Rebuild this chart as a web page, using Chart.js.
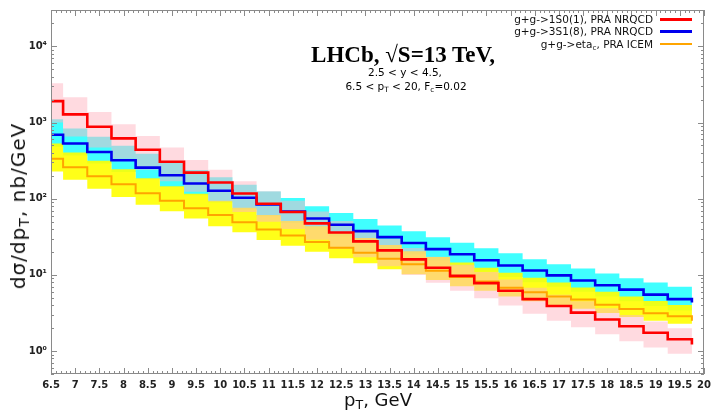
<!DOCTYPE html>
<html>
<head>
<meta charset="utf-8">
<script src="https://cdn.jsdelivr.net/npm/chart.js@4.4.1/dist/chart.umd.min.js"></script>
<style>
  body { margin: 0; background: #fff; }
  #wrap { position: relative; width: 716px; height: 412px; }
  #plot { position: absolute; left: 0; top: 0; }
  .txt { position: absolute; white-space: nowrap; color: #000; font-family: "DejaVu Sans", sans-serif; }
  .txt sub { font-size: 70%; vertical-align: -0.25em; line-height: 0; }
  .title { font-family: "Liberation Serif", serif; font-weight: bold; font-size: 23px; line-height: 23px; transform: translateX(-50%); }
  .sub { font-size: 10.5px; line-height: 12px; transform: translateX(-50%); }
  .leg { font-size: 10.5px; line-height: 12px; color: #111; }
  .key { position: absolute; left: 660px; width: 32px; }
  .axis-t { font-size: 18px; line-height: 20px; color: #111; }
</style>
</head>
<body>
<div id="wrap">
  <canvas id="plot" width="716" height="412"></canvas>

  <div class="txt title" style="left:403px; top:43px;">LHCb, √S=13 TeV,</div>
  <div class="txt sub" style="left:405px; top:66px;">2.5 &lt; y &lt; 4.5,</div>
  <div class="txt sub" style="left:406px; top:80px;">6.5 &lt; p<sub>T</sub> &lt; 20, F<sub>c</sub>=0.02</div>

  <div class="txt leg" style="right:63px; top:13px;">g+g-&gt;1S0(1), PRA NRQCD</div>
  <div class="txt leg" style="right:63px; top:25px;">g+g-&gt;3S1(8), PRA NRQCD</div>
  <div class="txt leg" style="right:63px; top:37.5px;">g+g-&gt;eta<sub>c</sub>, PRA ICEM</div>
  <div class="key" style="top:17.5px; height:3px; background:#ff0000;"></div>
  <div class="key" style="top:29.5px; height:3px; background:#0000ee;"></div>
  <div class="key" style="top:42.5px; height:2px; background:#ffa500;"></div>

  <div class="txt axis-t" style="left:18px; top:206px; font-size:20px; letter-spacing:1px; transform:translate(-50%,-50%) rotate(-90deg);">dσ/dp<sub>T</sub>, nb/GeV</div>
  <div class="txt axis-t" style="left:378px; top:390px; transform:translateX(-50%);">p<sub>T</sub>, GeV</div>
</div>
<script>
// pT bin centres (GeV), bins are 0.5 GeV wide
const ptBins = [6.5, 7, 7.5, 8, 8.5, 9, 9.5, 10, 10.5, 11, 11.5, 12, 12.5, 13, 13.5,
  14, 14.5, 15, 15.5, 16, 16.5, 17, 17.5, 18, 18.5, 19, 19.5];

// g+g -> 1S0(1), PRA NRQCD : central value and scale band (nb/GeV)
const sig1S0 = [1910, 1280, 880, 620, 440, 306, 220, 163, 117, 86, 67, 47.5, 36, 27.5, 21,
  16, 12.4, 9.7, 7.8, 6.2, 4.8, 3.9, 3.2, 2.6, 2.12, 1.74, 1.43];
const sig1S0Max = [3280, 2140, 1370, 950, 665, 470, 322, 240, 170, 125, 94, 68, 51, 39, 29.5,
  22.5, 17.3, 13.6, 10.9, 8.7, 6.8, 5.5, 4.5, 3.65, 2.97, 2.44, 2.0];
const sig1S0Min = [1000, 655, 470, 335, 240, 170, 123, 92, 67, 50, 40, 29, 22, 17, 13,
  10, 7.9, 6.2, 4.95, 3.95, 3.08, 2.5, 2.05, 1.66, 1.35, 1.11, 0.92];

// g+g -> 3S1(8), PRA NRQCD
const sig3S1 = [690, 530, 410, 320, 256, 203, 158, 127, 103, 84, 68, 55, 45.5, 37.5, 31.3,
  26.2, 21.8, 18.7, 15.6, 13.3, 11.4, 9.85, 8.45, 7.3, 6.4, 5.5, 4.8];
const sig3S1Max = [1104, 832, 649, 495, 390, 300, 239, 191, 152, 124, 102, 79.4, 64.9, 54.2, 44.5,
  37.5, 31.3, 26.4, 22.3, 19.2, 16, 13.8, 12.1, 10.4, 9.06, 7.94, 6.98];
const sig3S1Min = [480, 370, 290, 225, 180, 142, 111, 89, 72, 59, 48, 39, 32, 26.5, 22,
  18.5, 15.4, 13.2, 11, 9.4, 8, 7, 6, 5.2, 4.5, 3.9, 3.4];

// g+g -> eta_c, PRA ICEM
const sigIcem = [335, 258, 197, 155, 118, 94, 75, 61, 49, 39.5, 33, 27, 22.7, 19.5, 16.3,
  13.8, 11.3, 9.4, 8.2, 6.8, 5.9, 5.2, 4.74, 4.06, 3.57, 3.13, 2.86];
const sigIcemMax = [531, 405, 316, 243, 186, 146, 116, 94, 76, 61, 51, 43.5, 35.6, 30.6, 24.6,
  20.5, 17.2, 14.5, 12.4, 10.7, 9.2, 7.94, 6.83, 6.0, 5.2, 4.55, 4.03];
const sigIcemMin = [227, 177, 135, 105, 83.5, 68.3, 54.8, 43.5, 36.4, 28.6, 24.1, 20.1, 16.5, 14.2, 11.9,
  10.2, 8.6, 7.1, 6.2, 5.2, 4.5, 3.95, 3.6, 3.15, 2.8, 2.5, 2.28];

// value the histogram line drops to at the right end (1S0, 3S1, ICEM)
const endDrop = [1.22, 4.35, 2.5];

const yTickValues = [1, 10, 100, 1000, 10000];
const supDigits = { "0": "\u2070", "1": "\u00b9", "2": "\u00b2", "3": "\u00b3", "4": "\u2074" };

const halfBin = (ptBins[1] - ptBins[0]) / 2;

// histogram steps: one point per bin left edge, plus the closing right edge
function steps(values, endValue) {
  const pts = values.map((v, i) => ({ x: ptBins[i] - halfBin, y: v }));
  const last = endValue === undefined ? values[values.length - 1] : endValue;
  pts.push({ x: ptBins[ptBins.length - 1] + halfBin, y: last });
  return pts;
}

function band(upper, lower, color, order) {
  return [
    { data: steps(upper), stepped: "before", borderWidth: 0, pointRadius: 0,
      backgroundColor: color, fill: "+1", order: order },
    { data: steps(lower), stepped: "before", borderWidth: 0, pointRadius: 0,
      backgroundColor: color, fill: false, order: order }
  ];
}

function histLine(values, endValue, color, width, order) {
  return { data: steps(values, endValue), stepped: "before", borderColor: color,
    borderWidth: width, pointRadius: 0, fill: false, order: order };
}

// inward ticks on all four sides plus the frame
const frameTicks = {
  id: "frameTicks",
  afterDraw(chart) {
    const { ctx, chartArea: a, scales: { x, y } } = chart;
    ctx.save();
    ctx.strokeStyle = "#8a8a8a";
    ctx.lineWidth = 1;
    ctx.beginPath();
    for (let i = 0; i <= 135; i++) {
      const px = Math.round(x.getPixelForValue(6.5 + i * 0.1)) + 0.5;
      const len = i % 5 === 0 ? 6 : 3;
      ctx.moveTo(px, a.bottom); ctx.lineTo(px, a.bottom - len);
      ctx.moveTo(px, a.top); ctx.lineTo(px, a.top + len);
    }
    for (let d = -1; d <= 4; d++) {
      for (let k = 1; k <= 9; k++) {
        const v = k * Math.pow(10, d);
        if (v < y.min || v > y.max) continue;
        const py = Math.round(y.getPixelForValue(v)) + 0.5;
        const len = k === 1 ? 6 : 3;
        ctx.moveTo(a.left, py); ctx.lineTo(a.left + len, py);
        ctx.moveTo(a.right, py); ctx.lineTo(a.right - len, py);
      }
    }
    ctx.stroke();
    ctx.strokeRect(Math.round(a.left) + 0.5, Math.round(a.top) + 0.5,
      Math.round(a.width) - 1, Math.round(a.height) - 1);
    ctx.restore();
  }
};

const tickFont = { family: "DejaVu Sans", size: 10, weight: "bold" };

new Chart(document.getElementById("plot"), {
  type: "line",
  data: {
    datasets: [
      histLine(sig1S0, endDrop[0], "#ff0000", 2.6, 1),
      histLine(sig3S1, endDrop[1], "#0000ee", 2.6, 2),
      histLine(sigIcem, endDrop[2], "#ffa500", 2, 3),
      ...band(sig1S0Max, sig1S0Min, "rgba(255,182,193,0.5)", 8),
      ...band(sigIcemMax, sigIcemMin, "rgba(255,255,0,0.9)", 9),
      ...band(sig3S1Max, sig3S1Min, "rgba(0,255,255,0.75)", 10)
    ]
  },
  options: {
    responsive: false,
    animation: false,
    events: [],
    layout: { padding: { top: 8, right: 12, left: 0, bottom: 0 } },
    plugins: { legend: { display: false }, tooltip: { enabled: false } },
    scales: {
      x: {
        type: "linear",
        min: 6.5,
        max: 20,
        grid: { display: false, drawTicks: false },
        border: { display: false },
        ticks: {
          stepSize: 0.5,
          autoSkip: false,
          maxRotation: 0,
          padding: 5,
          color: "#222",
          font: tickFont,
          callback: v => String(Math.round(v * 10) / 10)
        },
        afterFit: s => { s.height = 38; }
      },
      y: {
        type: "logarithmic",
        min: 0.5,
        max: 30000,
        grid: { display: false, drawTicks: false },
        border: { display: false },
        afterBuildTicks: axis => { axis.ticks = yTickValues.map(v => ({ value: v })); },
        ticks: {
          padding: 4,
          color: "#222",
          font: tickFont,
          callback: v => "10" + supDigits[String(Math.round(Math.log10(v)))]
        },
        afterFit: s => { s.width = 51; }
      }
    }
  },
  plugins: [frameTicks]
});
</script>
</body>
</html>
